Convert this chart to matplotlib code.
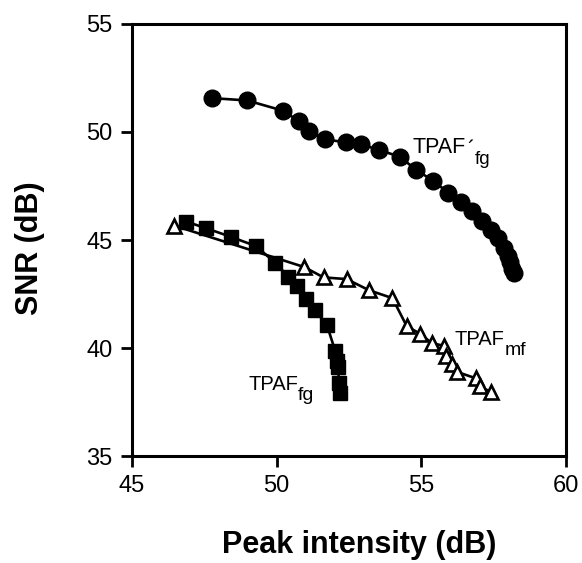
import matplotlib
matplotlib.use("Agg")
import matplotlib.pyplot as plt

plt.rcParams['font.family'] = ['Liberation Sans', 'DejaVu Sans']

# TPAF'fg (filled circles)
circ_x = [47.75, 48.98, 50.21, 50.78, 51.11, 51.68, 52.39, 52.90, 53.55, 54.25,
          54.83, 55.41, 55.93, 56.38, 56.76, 57.08, 57.40, 57.66, 57.85, 57.98,
          58.07, 58.15, 58.20]
circ_y = [51.57, 51.46, 50.99, 50.49, 50.03, 49.66, 49.52, 49.44, 49.16, 48.86,
          48.24, 47.74, 47.19, 46.74, 46.32, 45.90, 45.48, 45.07, 44.65, 44.28,
          43.98, 43.68, 43.48]

# TPAFfg (filled squares)
sq_x = [46.88, 47.55, 48.41, 49.28, 49.95, 50.40, 50.72, 51.02, 51.32, 51.74,
        52.03, 52.08, 52.12, 52.16, 52.20]
sq_y = [45.85, 45.55, 45.15, 44.72, 43.95, 43.31, 42.85, 42.25, 41.75, 41.05,
        39.84, 39.40, 39.10, 38.40, 37.92]

# TPAFmf (open triangles)
tri_x = [46.45, 50.95, 51.62, 52.42, 53.20, 54.00, 54.50, 54.95, 55.36, 55.78,
         55.84, 56.05, 56.22, 56.88, 57.02, 57.40]
tri_y = [45.67, 43.75, 43.27, 43.19, 42.67, 42.31, 41.00, 40.67, 40.23, 40.10,
         39.62, 39.26, 38.90, 38.60, 38.22, 37.97]

x_ticks = [45, 50, 55, 60]
y_ticks = [35, 40, 45, 50, 55]

fig = plt.figure(figsize=(5.82, 5.63), dpi=100)
ax = fig.add_axes([0.2268, 0.19, 0.7457, 0.7674])

ax.plot(circ_x, circ_y, '-o', color='black', lw=1.9, ms=12, mfc='black', mec='black', zorder=3)
ax.plot(tri_x, tri_y, '-^', color='black', lw=1.9, ms=9.5, mfc='white', mec='black', mew=1.9, zorder=2)
ax.plot(sq_x, sq_y, '-s', color='black', lw=1.9, ms=9.5, mfc='black', mec='black', zorder=4)


def label(x, y, main, sub, prime=False, size=14.5, subsize=13.5):
    t = ax.text(x, y, main, fontsize=size, va='baseline', ha='left')
    dx = 0
    if prime:
        ax.annotate('\u00b4', xy=(1, 1), xycoords=t, xytext=(0.5, -2),
                    textcoords='offset points', fontsize=size, ha='left', va='top')
        dx = 6
    ax.annotate(sub, xy=(1, 0), xycoords=t, xytext=(dx, -4.5),
                textcoords='offset points', fontsize=subsize, ha='left', va='baseline')


label(54.71, 49.03, 'TPAF', 'fg', prime=True, size=15.5, subsize=13.5)
label(56.16, 40.14, 'TPAF', 'mf', subsize=14)
label(49.01, 38.06, 'TPAF', 'fg', subsize=14)

ax.set_xlim(45, 60)
ax.set_ylim(35, 55)
ax.set_xticks(x_ticks)
ax.set_yticks(y_ticks)
ax.tick_params(direction='out', length=8, width=2, labelsize=17, pad=6)
for s in ax.spines.values():
    s.set_linewidth(2.2)

fig.text(359 / 582, 1 - 553 / 563, 'Peak intensity (dB)', fontsize=22,
         fontweight='bold', ha='center', va='baseline')
fig.text(30 / 582, 1 - 248 / 563, 'SNR (dB)', fontsize=22, fontweight='bold',
         ha='center', va='center', rotation=90)

fig.savefig('out.png', dpi=100)
